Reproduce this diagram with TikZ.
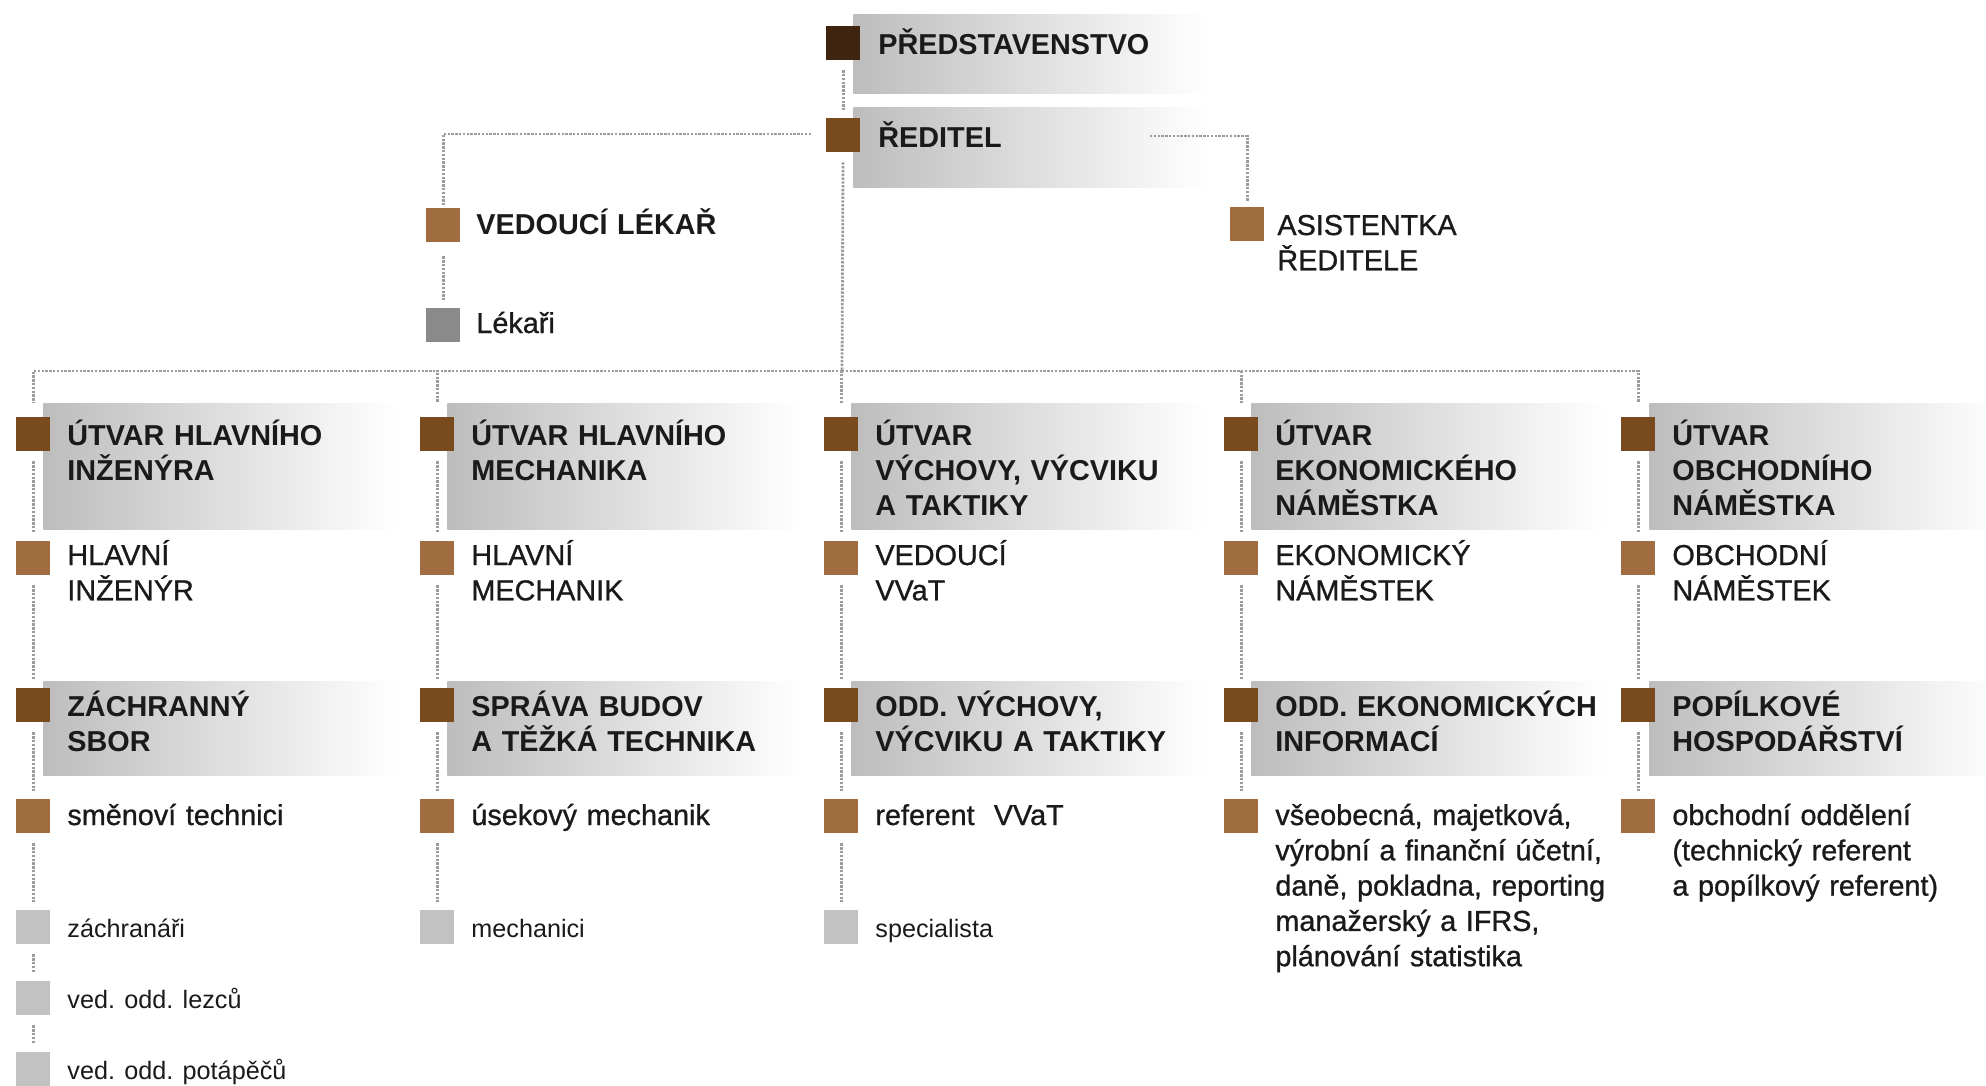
\documentclass[tikz,border=0pt]{standalone}
\usepackage{fontspec}
\setmainfont{Liberation Sans}
\newfontfamily\medfont[FakeBold=0.9]{Liberation Sans}
\usepackage{tikz}
\usetikzlibrary{backgrounds}

\definecolor{brD}{HTML}{3F2410}
\definecolor{brM}{HTML}{7A4A1F}
\definecolor{brL}{HTML}{A06D40}
\definecolor{grD}{HTML}{8A8A8A}
\definecolor{grL}{HTML}{C2C2C2}
\definecolor{dotc}{HTML}{9C9C9C}
\definecolor{bandc}{HTML}{BDBDBD}
\definecolor{txt}{HTML}{1A1A1A}

\begin{document}
\begin{tikzpicture}[x=0.5pt, y=-0.5pt,
    sq/.style={minimum size=16.75pt, inner sep=0pt, anchor=north west},
    band/.style={anchor=north west, inner sep=0pt, minimum width=177pt, left color=bandc, right color=white},
    hd/.style={anchor=base west, inner sep=0pt, text width=190pt, align=left, text=txt, font=\fontsize{14.4}{17.65}\selectfont\bfseries},
    tx/.style={hd, font=\fontsize{14.4}{17.65}\selectfont\medfont},
    sm/.style={anchor=base west, inner sep=0pt, text=txt, font=\fontsize{12.6}{15}\selectfont},
    dotline/.style={draw=dotc, line width=1.4pt, dash pattern=on 1.2pt off 0.7pt, shorten <=5pt, shorten >=4pt}]
    \useasboundingbox (0,0) rectangle (1986,1086);

    % top
    \node[band, minimum height=39.5pt] (predb) at (853,14) {};
    \node[sq, fill=brD] (predsq) at (826,26) {};
    \node[hd] (pred) at (878,55) {PŘEDSTAVENSTVO};
    \node[band, minimum height=40pt] (redb) at (853,107) {};
    \node[sq, fill=brM] (redsq) at (826,118) {};
    \node[hd] (red) at (878,148) {ŘEDITEL};
    \coordinate (redL) at (811,134);
    \coordinate (redR) at (1150,136);
    \coordinate (bus) at (842,371);

    \node[sq, fill=brL] (vlsq) at (426,208) {};
    \node[hd] (vl) at (476,234) {VEDOUCÍ LÉKAŘ};
    \node[sq, fill=grD] (leksq) at (426,308) {};
    \node[tx] (lek) at (476,333) {Lékaři};
    \node[sq, fill=brL] (assq) at (1230,207) {};
    \node[tx] (as) at (1277,235) {ASISTENTKA\\ŘEDITELE};

    % column 1
    \node[band, minimum height=63pt] (U1) at (43,403) {};
    \node[sq, fill=brM] (U1s) at (16,417) {};
    \node[hd] (U1t) at (67,445) {ÚTVAR HLAVNÍHO\\INŽENÝRA};
    \node[sq, fill=brL] (V1s) at (16,541) {};
    \node[tx] (V1) at (67,565) {HLAVNÍ\\INŽENÝR};
    \node[band, minimum height=47pt] (O1) at (43,681) {};
    \node[sq, fill=brM] (O1s) at (16,688) {};
    \node[hd] (O1t) at (67,716) {ZÁCHRANNÝ\\SBOR};
    \node[sq, fill=brL] (P1s) at (16,799) {};
    \node[tx] (P1) at (67,825) {směnoví technici};
    \node[sq, fill=grL] (D1s) at (16,910) {};
    \node[sm] (D1) at (67,937) {záchranáři};
    \node[sq, fill=grL] (L1s) at (16,981) {};
    \node[sm] (L1) at (67,1008) {ved. odd. lezců};
    \node[sq, fill=grL] (T1s) at (16,1052) {};
    \node[sm] (T1) at (67,1079) {ved. odd. potápěčů};

    % column 2
    \node[band, minimum height=63pt] (U2) at (447,403) {};
    \node[sq, fill=brM] (U2s) at (420,417) {};
    \node[hd] (U2t) at (471,445) {ÚTVAR HLAVNÍHO\\MECHANIKA};
    \node[sq, fill=brL] (V2s) at (420,541) {};
    \node[tx] (V2) at (471,565) {HLAVNÍ\\MECHANIK};
    \node[band, minimum height=47pt] (O2) at (447,681) {};
    \node[sq, fill=brM] (O2s) at (420,688) {};
    \node[hd] (O2t) at (471,716) {SPRÁVA BUDOV\\A TĚŽKÁ TECHNIKA};
    \node[sq, fill=brL] (P2s) at (420,799) {};
    \node[tx] (P2) at (471,825) {úsekový mechanik};
    \node[sq, fill=grL] (D2s) at (420,910) {};
    \node[sm] (D2) at (471,937) {mechanici};

    % column 3
    \node[band, minimum height=63pt] (U3) at (851,403) {};
    \node[sq, fill=brM] (U3s) at (824,417) {};
    \node[hd] (U3t) at (875,445) {ÚTVAR\\VÝCHOVY, VÝCVIKU\\A TAKTIKY};
    \node[sq, fill=brL] (V3s) at (824,541) {};
    \node[tx] (V3) at (875,565) {VEDOUCÍ\\VVaT};
    \node[band, minimum height=47pt] (O3) at (851,681) {};
    \node[sq, fill=brM] (O3s) at (824,688) {};
    \node[hd] (O3t) at (875,716) {ODD. VÝCHOVY,\\VÝCVIKU A TAKTIKY};
    \node[sq, fill=brL] (P3s) at (824,799) {};
    \node[tx] (P3) at (875,825) {referent\ \ VVaT};
    \node[sq, fill=grL] (D3s) at (824,910) {};
    \node[sm] (D3) at (875,937) {specialista};

    % column 4
    \node[band, minimum height=63pt] (U4) at (1251,403) {};
    \node[sq, fill=brM] (U4s) at (1224,417) {};
    \node[hd] (U4t) at (1275,445) {ÚTVAR\\EKONOMICKÉHO\\NÁMĚSTKA};
    \node[sq, fill=brL] (V4s) at (1224,541) {};
    \node[tx] (V4) at (1275,565) {EKONOMICKÝ\\NÁMĚSTEK};
    \node[band, minimum height=47pt] (O4) at (1251,681) {};
    \node[sq, fill=brM] (O4s) at (1224,688) {};
    \node[hd] (O4t) at (1275,716) {ODD. EKONOMICKÝCH\\INFORMACÍ};
    \node[sq, fill=brL] (P4s) at (1224,799) {};
    \node[tx] (P4) at (1275,825) {všeobecná, majetková,\\výrobní a finanční účetní,\\daně, pokladna, reporting\\manažerský a IFRS,\\plánování statistika};

    % column 5
    \node[band, minimum height=63pt] (U5) at (1649,403) {};
    \node[sq, fill=brM] (U5s) at (1621,417) {};
    \node[hd] (U5t) at (1672,445) {ÚTVAR\\OBCHODNÍHO\\NÁMĚSTKA};
    \node[sq, fill=brL] (V5s) at (1621,541) {};
    \node[tx] (V5) at (1672,565) {OBCHODNÍ\\NÁMĚSTEK};
    \node[band, minimum height=47pt] (O5) at (1649,681) {};
    \node[sq, fill=brM] (O5s) at (1621,688) {};
    \node[hd] (O5t) at (1672,716) {POPÍLKOVÉ\\HOSPODÁŘSTVÍ};
    \node[sq, fill=brL] (P5s) at (1621,799) {};
    \node[tx] (P5) at (1672,825) {obchodní oddělení\\(technický referent\\a popílkový referent)};

    % dotted connectors
    \begin{pgfonlayer}{background}
    \draw[dotline] (predsq) -- (redsq);
    \draw[dotline, shorten >=0pt] (redsq) -- (bus);
    \draw[dotline, shorten <=0pt, shorten >=1.5pt] (redL) -| (vlsq);
    \draw[dotline, shorten <=7pt] (vlsq) -- (leksq);
    \draw[dotline, shorten <=0pt, shorten >=7pt] (bus) -| (U1s);
    \draw[dotline, shorten <=0pt, shorten >=7pt] (bus) -| (U2s);
    \draw[dotline, shorten <=0pt, shorten >=7pt] (bus) -| (U3s);
    \draw[dotline, shorten <=0pt, shorten >=7pt] (bus) -| (U4s);
    \draw[dotline, shorten <=0pt, shorten >=7pt] (bus) -| (U5s);
    \draw[dotline] (U1s) -- (V1s);
    \draw[dotline] (V1s) -- (O1s);
    \draw[dotline] (O1s) -- (P1s);
    \draw[dotline] (P1s) -- (D1s);
    \draw[dotline] (D1s) -- (L1s);
    \draw[dotline] (L1s) -- (T1s);
    \draw[dotline] (U2s) -- (V2s);
    \draw[dotline] (V2s) -- (O2s);
    \draw[dotline] (O2s) -- (P2s);
    \draw[dotline] (P2s) -- (D2s);
    \draw[dotline] (U3s) -- (V3s);
    \draw[dotline] (V3s) -- (O3s);
    \draw[dotline] (O3s) -- (P3s);
    \draw[dotline] (P3s) -- (D3s);
    \draw[dotline] (U4s) -- (V4s);
    \draw[dotline] (V4s) -- (O4s);
    \draw[dotline] (O4s) -- (P4s);
    \draw[dotline] (U5s) -- (V5s);
    \draw[dotline] (V5s) -- (O5s);
    \draw[dotline] (O5s) -- (P5s);
    \end{pgfonlayer}
    \draw[dotline, shorten <=0pt, shorten >=2.5pt] (redR) -| (assq);
\end{tikzpicture}
\end{document}
